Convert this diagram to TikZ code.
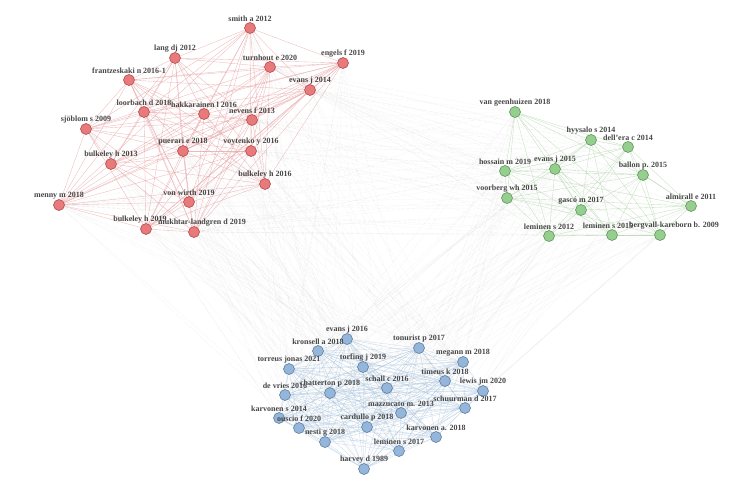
\documentclass[tikz,border=0pt]{standalone}
\usepackage{fontspec}
\setmainfont{Liberation Serif}
\usetikzlibrary{backgrounds}
\definecolor{rf}{HTML}{E97A7C}\definecolor{rd}{HTML}{A83A3C}
\definecolor{gf}{HTML}{95CE8E}\definecolor{gd}{HTML}{4E8A48}
\definecolor{bf}{HTML}{93B6DA}\definecolor{bd}{HTML}{4F7093}
\definecolor{re}{HTML}{E8A2A4}\definecolor{ge}{HTML}{B6D9B0}\definecolor{be}{HTML}{9FBDDA}
\tikzset{
 pt/.style={circle,draw,line width=0.5pt,minimum size=11pt,inner sep=0pt},
 rn/.style={pt,fill=rf,draw=rd},
 gn/.style={pt,fill=gf,draw=gd},
 bn/.style={pt,fill=bf,draw=bd},
 lbl/.style={font=\fontsize{8}{9}\selectfont\bfseries,text=black!72,inner sep=1pt},
 redge/.style={draw=re,line width=0.35pt,opacity=0.75},
 gedge/.style={draw=ge,line width=0.35pt,opacity=0.8},
 bedge/.style={draw=be,line width=0.3pt,opacity=0.6},
 xedge/.style={draw=gray!55,line width=0.25pt,opacity=0.55,densely dotted},
}
\newcommand\nd[6][]{\node[#2,label={[lbl,yshift=-1pt,#1]above:#6}] (#3) at (#4,#5) {};}
\begin{document}
\begin{tikzpicture}[x=1pt,y=-1pt]
\useasboundingbox (0,0) rectangle (738,481);
% red
\nd{rn}{r1}{250}{28}{smith a 2012}
\nd{rn}{r2}{175}{58}{lang dj 2012}
\nd{rn}{r3}{270}{67}{turnhout e 2020}
\nd{rn}{r4}{343}{63}{engels f 2019}
\nd{rn}{r5}{129}{80}{frantzeskaki n 2016-1}
\nd{rn}{r6}{310}{90}{evans j 2014}
\nd{rn}{r7}{144}{112}{loorbach d 2018}
\nd{rn}{r8}{204}{114}{hakkarainen l 2016}
\nd{rn}{r9}{252}{120}{nevens f 2013}
\nd{rn}{r10}{86}{129}{sjöblom s 2009}
\nd{rn}{r11}{183}{151}{puerari e 2018}
\nd{rn}{r12}{251}{151}{voytenko y 2016}
\nd{rn}{r13}{111}{164}{bulkeley h 2013}
\nd{rn}{r14}{265}{184}{bulkeley h 2016}
\nd{rn}{r15}{59}{205}{menny m 2018}
\nd{rn}{r16}{189}{202}{von wirth 2019}
\nd[xshift=-6pt]{rn}{r17}{146}{229}{bulkeley h 2019}
\nd[xshift=8pt]{rn}{r18}{194}{232}{mukhtar-landgren d 2019}
% green
\nd{gn}{g1}{515}{112}{van geenhuizen 2018}
\nd{gn}{g2}{591}{140}{hyysalo s 2014}
\nd{gn}{g3}{628}{147}{dell'era c 2014}
\nd{gn}{g4}{505}{171}{hossain m 2019}
\nd{gn}{g5}{555}{169}{evans j 2015}
\nd{gn}{g6}{643}{175}{ballon p. 2015}
\nd{gn}{g7}{507}{198}{voorberg wh 2015}
\nd{gn}{g8}{581}{210}{gascó m 2017}
\nd{gn}{g9}{691}{206}{almirall e 2011}
\nd{gn}{g10}{549}{236}{leminen s 2012}
\nd[xshift=-4pt]{gn}{g11}{612}{235}{leminen s 2015}
\nd[xshift=14pt]{gn}{g12}{660}{235}{bergvall-kareborn b. 2009}
% blue
\nd{bn}{b1}{347}{339}{evans j 2016}
\nd{bn}{b2}{318}{351}{kronsell a 2018}
\nd{bn}{b3}{419}{348}{tonurist p 2017}
\nd{bn}{b4}{463}{362}{megann m 2018}
\nd{bn}{b5}{289}{369}{torreus jonas 2021}
\nd{bn}{b6}{363}{367}{torfing j 2019}
\nd{bn}{b7}{445}{381}{timeus k 2018}
\nd{bn}{b8}{387}{388}{schall c 2016}
\nd{bn}{b9}{483}{391}{lewis jm 2020}
\nd{bn}{b10}{285}{395}{de vries 2016}
\nd{bn}{b11}{330}{393}{chatterton p 2018}
\nd{bn}{b12}{465}{408}{schuurman d 2017}
\nd{bn}{b13}{401}{413}{mazzucato m. 2013}
\nd{bn}{b14}{279}{418}{karvonen s 2014}
\nd{bn}{b15}{299}{428}{ouscio f 2020}
\nd{bn}{b16}{367}{427}{cardullo p 2018}
\nd{bn}{b17}{436}{437}{karvonen a. 2018}
\nd{bn}{b18}{325}{442}{nesti g 2018}
\nd{bn}{b19}{399}{451}{leminen s 2017}
\nd{bn}{b20}{364}{469}{harvey d 1989}
\begin{pgfonlayer}{background}
% cross-cluster
\foreach \i in {1,...,18}{\foreach \j in {1,...,12}{
  \pgfmathtruncatemacro\m{mod(\i*7+\j*3,3)}
  \ifnum\m=0 \draw[xedge] (r\i)--(g\j);\fi}}
\foreach \i in {1,...,18}{\foreach \j in {1,...,20}{
  \pgfmathtruncatemacro\m{mod(\i*5+\j*2,3)}
  \ifnum\m=0 \draw[xedge] (r\i)--(b\j);\fi}}
\foreach \i in {1,...,12}{\foreach \j in {1,...,20}{
  \pgfmathtruncatemacro\m{mod(\i*5+\j*7,3)}
  \ifnum\m=0 \draw[xedge] (g\i)--(b\j);\fi}}
% intra
\foreach \i in {1,...,17}{\pgfmathtruncatemacro\k{\i+1}\foreach \j in {\k,...,18}{
  \pgfmathtruncatemacro\m{mod(\i*3+\j,4)}
  \ifnum\m>0 \draw[redge] (r\i)--(r\j);\fi}}
\foreach \i in {1,...,11}{\pgfmathtruncatemacro\k{\i+1}\foreach \j in {\k,...,12}{
  \pgfmathtruncatemacro\m{mod(\i*3+\j,4)}
  \ifnum\m>0 \draw[gedge] (g\i)--(g\j);\fi}}
\foreach \i in {1,...,19}{\pgfmathtruncatemacro\k{\i+1}\foreach \j in {\k,...,20}{
  \draw[bedge] (b\i)--(b\j);}}
\end{pgfonlayer}
\end{tikzpicture}
\end{document}
